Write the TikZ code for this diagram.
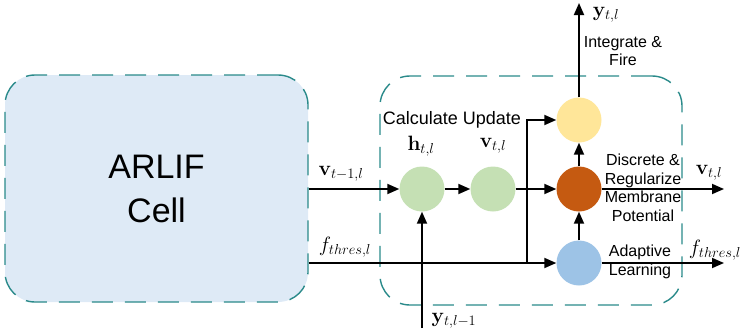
\documentclass[tikz,border=0pt]{standalone}
\usepackage{amsmath}
\usepackage[no-math]{fontspec}
\setmainfont{Liberation Sans}
\usetikzlibrary{arrows.meta, positioning}
\DeclareMathSizes{20}{20}{15.5}{12}

\definecolor{cellblue}{HTML}{DEEAF6}
\definecolor{dashteal}{HTML}{2A8A8A}
\definecolor{leafgreen}{HTML}{C5E0B4}
\definecolor{firegold}{HTML}{FFE699}
\definecolor{burnt}{HTML}{C55A11}
\definecolor{skyblue}{HTML}{9DC3E6}

\begin{document}
\begin{tikzpicture}[x=1pt, y=-1pt,
    block/.style={draw=dashteal, line width=1.4pt, dash pattern=on 21pt off 12pt, rounded corners=30pt},
    neuron/.style={circle, minimum size=45pt, inner sep=0pt},
    lbl/.style={font=\fontsize{16}{18.5}\selectfont, align=center, inner sep=0pt},
    sym/.style={font=\fontsize{20}{22}\selectfont, inner sep=0pt},
    arrow/.style={-{Triangle[length=12pt,width=10pt]}, line width=1.8pt}
]
\useasboundingbox (0,0) rectangle (740,335);

% blocks
\node[block, fill=cellblue, minimum width=303pt, minimum height=227pt,
      font=\fontsize{34}{44}\selectfont, align=center] (cell) at (156.5,188.5) {ARLIF\\Cell};
\node[block, minimum width=302pt, minimum height=229pt] (update) at (531,190.5) {};

% neurons
\node[neuron, fill=leafgreen] (hid) at (422,189) {};
\node[neuron, fill=leafgreen] (mem) at (493,189) {};
\node[neuron, fill=firegold] (fire) at (579,120) {};
\node[neuron, fill=burnt] (reg) at (579,189) {};
\node[neuron, fill=skyblue] (adapt) at (579,263) {};

\coordinate (junc) at (527,263);
\coordinate (yin) at (422,328);
\coordinate (yout) at (579,3);
\coordinate (vout) at (724,189);
\coordinate (fout) at (724,263);

% connectors
\draw[arrow] (cell.east |- hid) -- (hid);
\draw[arrow] (cell.east |- adapt) -- (adapt);
\draw[arrow] (junc) |- (fire);
\draw[arrow] (hid) -- (mem);
\draw[arrow] (mem) -- (reg);
\draw[arrow] (yin) -- (hid);
\draw[arrow] (reg) -- (fire);
\draw[arrow] (adapt) -- (reg);
\draw[arrow] (fire) -- (yout);
\draw[arrow] (reg) -- (vout);
\draw[arrow] (adapt) -- (fout);

% labels
\node[lbl, font=\fontsize{18}{21}\selectfont] (calc) at (452,120) {Calculate Update};
\node[lbl] (firetxt) at (623,51) {Integrate \&\\Fire};
\node[lbl] (regtxt) at (643,188) {Discrete \&\\Regularize\\Membrane\\Potential};
\node[lbl] (adapttxt) at (640,262) {Adaptive\\Learning};
\node[sym] (htxt) at (421,146) {$\mathbf{h}_{t,l}$};
\node[sym] (vtxt) at (493,146) {$\mathbf{v}_{t,l}$};
\node[sym] (vprev) at (341,174) {$\mathbf{v}_{t-1,l}$};
\node[sym] (fprev) at (345,247) {$f_{thres,l}$};
\node[sym] (ylow) at (454,321) {$\mathbf{y}_{t,l-1}$};
\node[sym] (yup) at (606,15) {$\mathbf{y}_{t,l}$};
\node[sym] (vnext) at (709,173) {$\mathbf{v}_{t,l}$};
\node[sym] (fnext) at (715,250) {$f_{thres,l}$};
\end{tikzpicture}
\end{document}
